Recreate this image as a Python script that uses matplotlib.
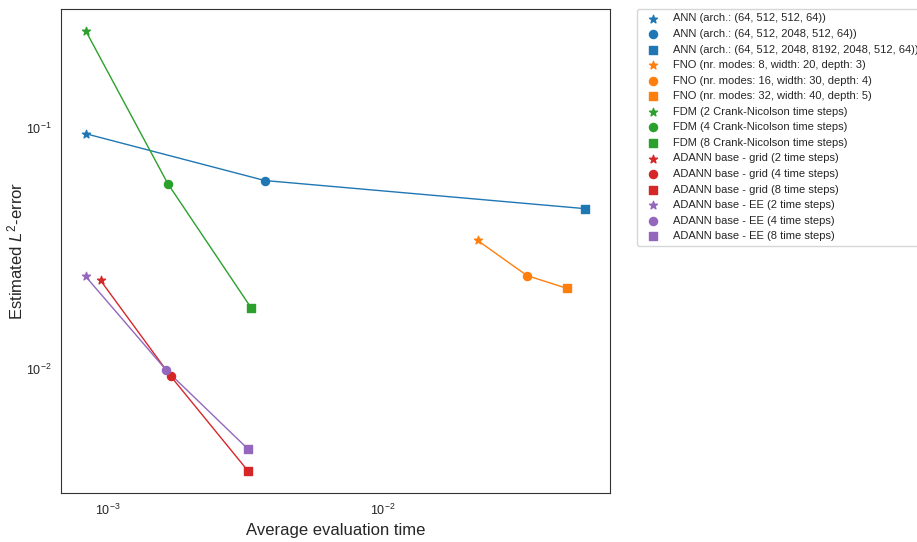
import matplotlib
matplotlib.use("Agg")
import matplotlib.pyplot as plt
import seaborn as sns

sns.set_style("white")
plt.rcParams['font.family'] = ['Liberation Sans', 'DejaVu Sans']
plt.rcParams['mathtext.fontset'] = 'custom'
plt.rcParams['mathtext.rm'] = 'Liberation Sans'
plt.rcParams['mathtext.it'] = 'Liberation Sans:italic'
plt.rcParams['mathtext.bf'] = 'Liberation Sans:bold'

# average evaluation time (s) and estimated L2-error per method, 3 configurations each
ann_time = [8.3e-4, 3.72e-3, 5.43e-2]
ann_err = [0.0944, 0.0604, 0.0462]
ann_labels = ["ANN (arch.: (64, 512, 512, 64))",
              "ANN (arch.: (64, 512, 2048, 512, 64))",
              "ANN (arch.: (64, 512, 2048, 8192, 2048, 512, 64))"]

fno_time = [2.21e-2, 3.34e-2, 4.67e-2]
fno_err = [0.0341, 0.0244, 0.0216]
fno_labels = ["FNO (nr. modes: 8, width: 20, depth: 3)",
              "FNO (nr. modes: 16, width: 30, depth: 4)",
              "FNO (nr. modes: 32, width: 40, depth: 5)"]

fdm_time = [8.3e-4, 1.65e-3, 3.31e-3]
fdm_err = [0.252, 0.0587, 0.0180]
fdm_labels = ["FDM (2 Crank-Nicolson time steps)",
              "FDM (4 Crank-Nicolson time steps)",
              "FDM (8 Crank-Nicolson time steps)"]

grid_time = [9.4e-4, 1.69e-3, 3.23e-3]
grid_err = [0.0233, 0.00936, 0.00379]
grid_labels = ["ADANN base - grid (2 time steps)",
               "ADANN base - grid (4 time steps)",
               "ADANN base - grid (8 time steps)"]

ee_time = [8.3e-4, 1.63e-3, 3.23e-3]
ee_err = [0.0242, 0.0099, 0.00467]
ee_labels = ["ADANN base - EE (2 time steps)",
             "ADANN base - EE (4 time steps)",
             "ADANN base - EE (8 time steps)"]

methods = [
    (ann_time, ann_err, ann_labels, "tab:blue"),
    (fno_time, fno_err, fno_labels, "tab:orange"),
    (fdm_time, fdm_err, fdm_labels, "tab:green"),
    (grid_time, grid_err, grid_labels, "tab:red"),
    (ee_time, ee_err, ee_labels, "tab:purple"),
]
markers = ["*", "o", "s"]
marker_sizes = [36, 34, 30]

fig = plt.figure(figsize=(9.17, 5.42), dpi=100)
ax = fig.add_axes([0.0665, 0.0904, 0.5985, 0.893])

for times, errs, labels, color in methods:
    ax.plot(times, errs, color=color, linewidth=1)
    for t, e, lab, m, s in zip(times, errs, labels, markers, marker_sizes):
        ax.scatter([t], [e], marker=m, s=s, color=color, label=lab, zorder=3)

ax.set_xscale("log")
ax.set_yscale("log")
ax.set_xlim(6.75e-4, 6.68e-2)
ax.set_ylim(3.07e-3, 0.31)
ax.minorticks_off()
ax.tick_params(labelsize=9)

ax.set_xlabel("Average evaluation time", fontsize=12)
ax.set_ylabel("Estimated $L^2$-error", fontsize=12, labelpad=0)

for sp in ax.spines.values():
    sp.set_color("0.2")

ax.legend(loc="upper left", bbox_to_anchor=(1.05, 1), borderaxespad=0,
          fontsize=8, scatterpoints=1, frameon=True)

fig.savefig("out.png", dpi=100)
